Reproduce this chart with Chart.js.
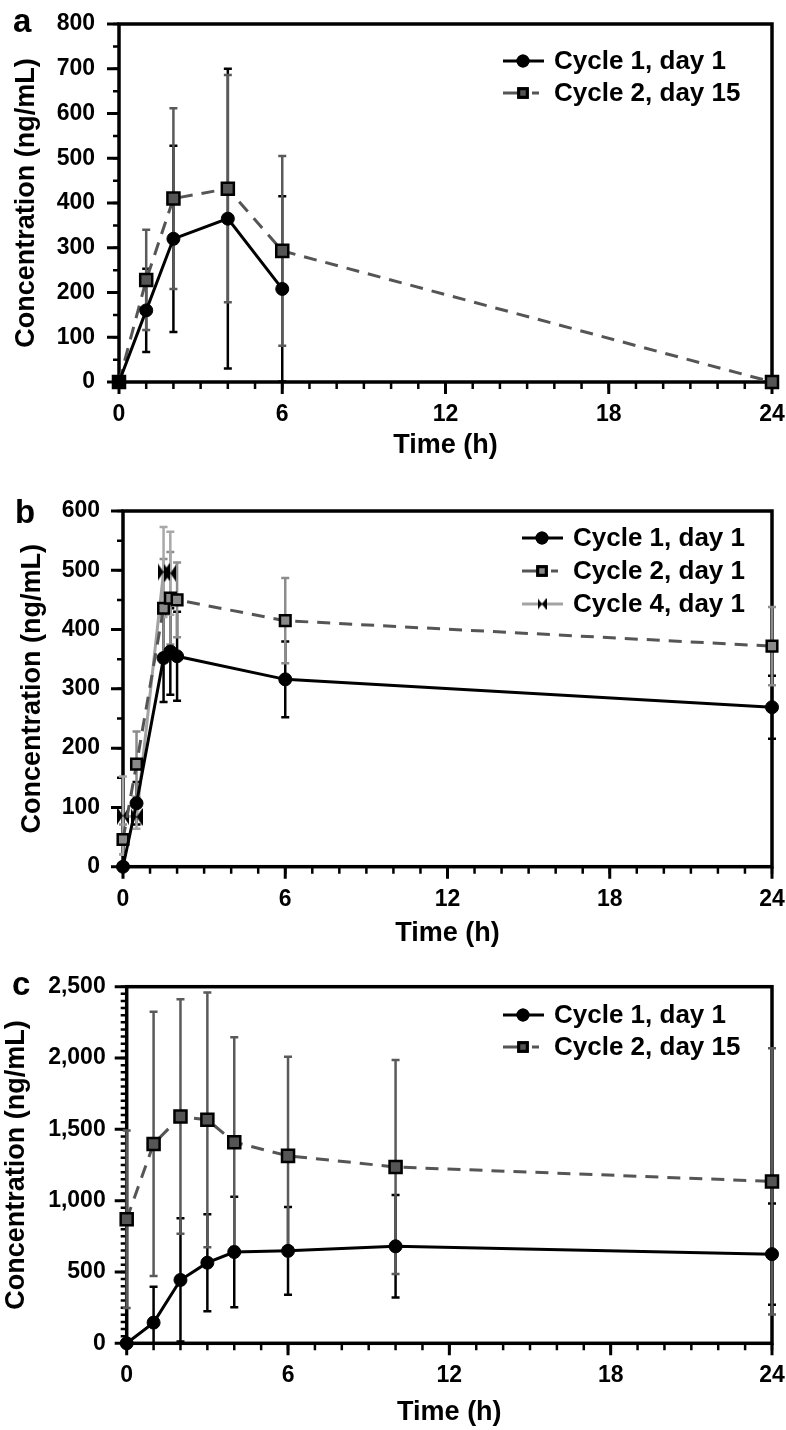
<!DOCTYPE html>
<html>
<head>
<meta charset="utf-8">
<script src="https://cdn.jsdelivr.net/npm/chart.js@4.4.0/dist/chart.umd.min.js"></script>
<style>
  html, body { margin: 0; padding: 0; background: #fff; }
  body { width: 786px; height: 1430px; position: relative; overflow: hidden; }
  .panel { position: absolute; left: 0; width: 786px; }
</style>
</head>
<body>
<div class="panel" style="top:0;height:470px"><canvas id="chartA" width="786" height="470"></canvas></div>
<div class="panel" style="top:470px;height:480px"><canvas id="chartB" width="786" height="480"></canvas></div>
<div class="panel" style="top:950px;height:480px"><canvas id="chartC" width="786" height="480"></canvas></div>
<script>
// ---- data ----
// panel a
var timeA1 = [0, 1, 2, 4, 6];
var meanA1 = [0, 160, 320, 365, 208];
var sdA1 = [0, 93, 208, 335, 207];
var timeA2 = [0, 1, 2, 4, 6, 24];
var meanA2 = [0, 228, 410, 432, 293, 0];
var sdA2 = [0, 112, 202, 254, 212, 0];

// panel b
var timeB1 = [0, 0.5, 1.5, 1.75, 2, 6, 24];
var meanB1 = [0, 107, 352, 363, 355, 316, 269];
var sdB1 = [0, 36, 74, 73, 75, 64, 53];
var timeB2 = [0, 0.5, 1.5, 1.75, 2, 6, 24];
var meanB2 = [46, 173, 436, 453, 450, 415, 372];
var sdB2 = [25, 55, 83, 78, 63, 72, 66];
var timeB4 = [0, 0.5, 1.5, 1.75];
var meanB4 = [86, 84, 497, 495];
var sdB4 = [66, 20, 76, 70];

// panel c
var timeC1 = [0, 1, 2, 3, 4, 6, 10, 24];
var meanC1 = [0, 145, 444, 565, 640, 648, 680, 625];
var sdC1 = [0, 252, 432, 340, 388, 307, 359, 355];
var timeC2 = [0, 1, 2, 3, 4, 6, 10, 24];
var meanC2 = [870, 1398, 1590, 1567, 1410, 1314, 1236, 1135];
var sdC2 = [622, 926, 822, 893, 735, 695, 750, 933];

// axes
var xTicks = [0, 6, 12, 18, 24];
var yTicksA = [0, 100, 200, 300, 400, 500, 600, 700, 800];
var yTicksB = [0, 100, 200, 300, 400, 500, 600];
var yTicksC = [0, 500, 1000, 1500, 2000, 2500];
var yLabelsC = ['0', '500', '1,000', '1,500', '2,000', '2,500'];

var FONT = "'Liberation Sans', Arial, Helvetica, sans-serif";
Chart.defaults.font.family = FONT;
Chart.defaults.font.weight = 'bold';
Chart.defaults.color = '#000';

function pts(t, v) {
  return t.map(function (x, i) { return { x: x, y: v[i] }; });
}

// bow-tie marker (two triangles meeting in the middle)
function bowtie(w, h) {
  var c = document.createElement('canvas');
  c.width = w; c.height = h;
  var g = c.getContext('2d');
  g.fillStyle = '#000';
  g.beginPath(); g.moveTo(0, 0); g.lineTo(w / 2, h / 2); g.lineTo(0, h); g.closePath(); g.fill();
  g.beginPath(); g.moveTo(w, 0); g.lineTo(w / 2, h / 2); g.lineTo(w, h); g.closePath(); g.fill();
  return c;
}
var bowBig = bowtie(12, 18);
var bowSmall = bowtie(9, 12);

// frame, tick marks and error bars
var framePlugin = {
  id: 'frameTicks',
  beforeDatasetsDraw: function (chart, args, opts) {
    var ctx = chart.ctx, a = chart.chartArea;
    var xs = chart.scales.x, ys = chart.scales.y;
    ctx.save();
    ctx.strokeStyle = '#000';
    ctx.lineCap = 'butt';
    // minor ticks
    ctx.lineWidth = 2.5;
    ctx.beginPath();
    for (var v = ys.min; v <= ys.max; v += opts.yMinor) {
      var py = ys.getPixelForValue(v);
      ctx.moveTo(a.left - 6, py); ctx.lineTo(a.left, py);
    }
    for (var h = xs.min; h <= xs.max; h += 1) {
      var px = xs.getPixelForValue(h);
      ctx.moveTo(px, a.bottom); ctx.lineTo(px, a.bottom + 7);
    }
    ctx.stroke();
    // major ticks
    ctx.lineWidth = 3;
    ctx.beginPath();
    ys.ticks.forEach(function (t) {
      var py = ys.getPixelForValue(t.value);
      ctx.moveTo(a.left - 12, py); ctx.lineTo(a.left, py);
    });
    xs.ticks.forEach(function (t) {
      var px = xs.getPixelForValue(t.value);
      ctx.moveTo(px, a.bottom); ctx.lineTo(px, a.bottom + 12);
    });
    ctx.stroke();
    // box
    ctx.lineWidth = 3.5;
    ctx.strokeRect(a.left, a.top, a.right - a.left, a.bottom - a.top);

    // error bars (mean ± SD, lower end clipped at 0)
    chart.data.datasets.forEach(function (ds) {
      if (!ds.sd) return;
      ctx.strokeStyle = ds.errColor;
      ctx.lineWidth = 2.5;
      ctx.beginPath();
      ds.data.forEach(function (p, i) {
        var sd = ds.sd[i];
        if (!sd) return;
        var x = xs.getPixelForValue(p.x);
        var hi = ys.getPixelForValue(p.y + sd);
        var lo = ys.getPixelForValue(Math.max(0, p.y - sd));
        ctx.moveTo(x, hi); ctx.lineTo(x, lo);
        ctx.moveTo(x - 4, hi); ctx.lineTo(x + 4, hi);
        ctx.moveTo(x - 4, lo); ctx.lineTo(x + 4, lo);
      });
      ctx.stroke();
    });
    ctx.restore();
  }
};

// legend inside the plot, line sample + marker + text
var legendPlugin = {
  id: 'insideLegend',
  afterDraw: function (chart, args, opts) {
    var ctx = chart.ctx;
    ctx.save();
    chart.data.datasets.forEach(function (ds, i) {
      var y = opts.y + i * opts.gap, x0 = opts.x, mx = x0 + 20;
      ctx.strokeStyle = ds.borderColor;
      ctx.lineWidth = 3;
      ctx.beginPath();
      if (ds.borderDash && ds.borderDash.length) {
        ctx.moveTo(x0, y); ctx.lineTo(x0 + 15, y);
        ctx.moveTo(x0 + 29, y); ctx.lineTo(x0 + 36, y);
      } else {
        ctx.moveTo(x0, y); ctx.lineTo(x0 + 41, y);
      }
      ctx.stroke();
      ctx.fillStyle = ds.pointBackgroundColor;
      ctx.strokeStyle = ds.pointBorderColor;
      var style = ds.pointStyle === bowBig ? bowSmall : ds.pointStyle;
      Chart.helpers.drawPoint(ctx, {
        pointStyle: style, radius: ds.legendRadius, rotation: 0, borderWidth: 2
      }, mx, y);
      if (style !== bowSmall) {
        ctx.fill();
        ctx.stroke();
      }
      ctx.fillStyle = '#000';
      ctx.font = 'bold 26px ' + FONT;
      ctx.textBaseline = 'middle';
      ctx.textAlign = 'left';
      ctx.fillText(ds.label, x0 + 51, y + 1);
    });
    ctx.restore();
  }
};

var panelLabelPlugin = {
  id: 'panelLabel',
  afterDraw: function (chart, args, opts) {
    var ctx = chart.ctx;
    ctx.save();
    ctx.fillStyle = '#000';
    ctx.font = 'bold 33px ' + FONT;
    ctx.textBaseline = 'alphabetic';
    ctx.fillText(opts.text, opts.x, opts.y);
    ctx.restore();
  }
};

function circleSet(label, t, m, sd) {
  return {
    label: label, data: pts(t, m), sd: sd, errColor: '#000',
    borderColor: '#000', borderWidth: 3, showLine: true, tension: 0,
    pointStyle: 'circle', pointRadius: 6.5, legendRadius: 5,
    pointBackgroundColor: '#000', pointBorderColor: '#000', pointBorderWidth: 1,
    clip: false
  };
}
function squareSet(label, t, m, sd, fill, err, r) {
  return {
    label: label, data: pts(t, m), sd: sd, errColor: err,
    borderColor: '#555', borderWidth: 3, borderDash: [13, 9], showLine: true, tension: 0,
    pointStyle: 'rect', pointRadius: r, legendRadius: 6,
    pointBackgroundColor: fill, pointBorderColor: '#000', pointBorderWidth: 2.5,
    clip: false
  };
}

function makeChart(id, datasets, cfg) {
  return new Chart(document.getElementById(id), {
    type: 'line',
    data: { datasets: datasets },
    options: {
      responsive: false,
      animation: false,
      devicePixelRatio: 1,
      layout: { padding: { top: cfg.top, right: 14, left: 0, bottom: 0 } },
      plugins: {
        legend: { display: false },
        tooltip: { enabled: false },
        frameTicks: { yMinor: cfg.yMinor },
        insideLegend: cfg.legend,
        panelLabel: cfg.panel
      },
      scales: {
        x: {
          type: 'linear', min: 0, max: 24,
          grid: { display: false, drawTicks: false },
          border: { display: false },
          afterBuildTicks: function (s) { s.ticks = xTicks.map(function (v) { return { value: v }; }); },
          ticks: { font: { size: 23, weight: 'bold' }, color: '#000', padding: 19, autoSkip: false, maxRotation: 0 },
          title: { display: true, text: 'Time (h)', color: '#000', font: { size: 27, weight: 'bold' },
                   padding: { top: 0, bottom: cfg.xTitlePad } },
          afterFit: function (s) { s.height = cfg.xHeight; s.paddingLeft = 0; s.paddingRight = 0; }
        },
        y: {
          type: 'linear', min: 0, max: cfg.yTicks[cfg.yTicks.length - 1],
          grid: { display: false, drawTicks: false },
          border: { display: false },
          afterBuildTicks: function (s) { s.ticks = cfg.yTicks.map(function (v) { return { value: v }; }); },
          ticks: {
            font: { size: 23, weight: 'bold' }, color: '#000', padding: cfg.yPad, autoSkip: false,
            callback: function (v, i) { return cfg.yLabels ? cfg.yLabels[i] : String(v); }
          },
          title: { display: true, text: 'Concentration (ng/mL)', color: '#000', font: { size: 27, weight: 'bold' },
                   padding: { top: cfg.yTitlePad, bottom: 0 } },
          afterFit: function (s) { s.width = cfg.yWidth; s.paddingTop = 0; s.paddingBottom = 0; }
        }
      }
    },
    plugins: [framePlugin, legendPlugin, panelLabelPlugin]
  });
}

makeChart('chartA', [
  circleSet('Cycle 1, day 1', timeA1, meanA1, sdA1),
  squareSet('Cycle 2, day 15', timeA2, meanA2, sdA2, '#555', '#5a5a5a', 8.5)
], {
  top: 24, yWidth: 119, xHeight: 88, yPad: 24, yTitlePad: 10.8, xTitlePad: 8,
  yTicks: yTicksA, yMinor: 50,
  legend: { x: 503, y: 61, gap: 32 },
  panel: { text: 'a', x: 13, y: 32 }
});

var c4 = {
  label: 'Cycle 4, day 1', data: pts(timeB4, meanB4), sd: sdB4, errColor: '#a8a8a8',
  borderColor: '#a3a3a3', borderWidth: 3, showLine: true, tension: 0,
  pointStyle: bowBig, pointRadius: 9, legendRadius: 5,
  pointBackgroundColor: '#000', pointBorderColor: '#000', clip: false
};
makeChart('chartB', [
  circleSet('Cycle 1, day 1', timeB1, meanB1, sdB1),
  squareSet('Cycle 2, day 1', timeB2, meanB2, sdB2, '#8a8a8a', '#8c8c8c', 7.5),
  c4
], {
  top: 41, yWidth: 123, xHeight: 83.3, yPad: 23, yTitlePad: 16.8, xTitlePad: 0,
  yTicks: yTicksB, yMinor: 50,
  legend: { x: 522, y: 68, gap: 33 },
  panel: { text: 'b', x: 15, y: 53 }
});

makeChart('chartC', [
  circleSet('Cycle 1, day 1', timeC1, meanC1, sdC1),
  squareSet('Cycle 2, day 15', timeC2, meanC2, sdC2, '#555', '#5a5a5a', 8.5)
], {
  top: 36.7, yWidth: 126.7, xHeight: 86.7, yPad: 21, yTitlePad: 0, xTitlePad: 1,
  yTicks: yTicksC, yLabels: yLabelsC, yMinor: 50,
  legend: { x: 503, y: 65, gap: 32 },
  panel: { text: 'c', x: 12, y: 45 }
});
</script>
</body>
</html>
